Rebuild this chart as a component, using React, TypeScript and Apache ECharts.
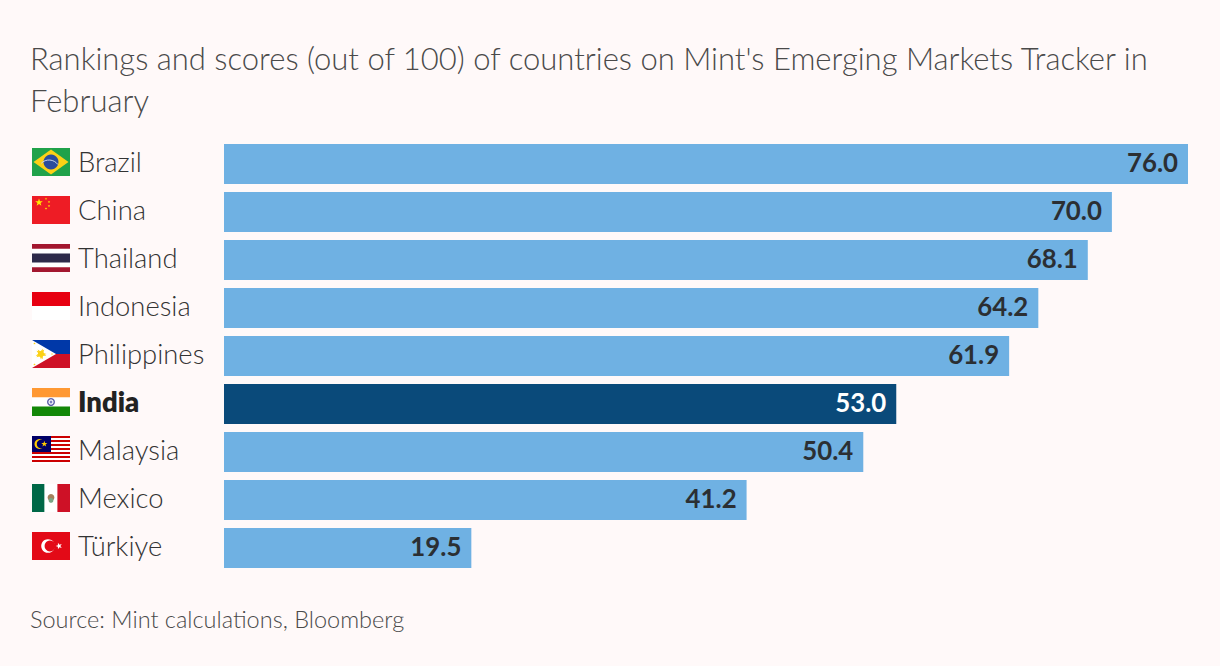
import React, { useEffect, useRef } from "react";
import * as echarts from "echarts";

const titleText = "Rankings and scores (out of 100) of countries on Mint's Emerging Markets Tracker in\nFebruary";
const sourceText = "Source: Mint calculations, Bloomberg";
const countries = ["Brazil", "China", "Thailand", "Indonesia", "Philippines", "India", "Malaysia", "Mexico", "Türkiye"];
const scores = [76.0, 70.0, 68.1, 64.2, 61.9, 53.0, 50.4, 41.2, 19.5];
const highlighted = "India";

const FONT = "Lato, sans-serif";
const W = 38;
const H = 28;

function star(cx: number, cy: number, r: number, rot = -Math.PI / 2) {
  const pts: number[][] = [];
  for (let i = 0; i < 10; i++) {
    const rr = i % 2 ? r * 0.4 : r;
    const a = rot + (i * Math.PI) / 5;
    pts.push([cx + rr * Math.cos(a), cy + rr * Math.sin(a)]);
  }
  return { type: "polygon", shape: { points: pts }, style: { fill: "" } } as any;
}
const rect = (x: number, y: number, w: number, h: number, fill: string) => ({ type: "rect", shape: { x, y, width: w, height: h }, style: { fill } });
const circle = (cx: number, cy: number, r: number, fill: string) => ({ type: "circle", shape: { cx, cy, r }, style: { fill } });
const poly = (points: number[][], fill: string) => ({ type: "polygon", shape: { points }, style: { fill } });
const fillStar = (cx: number, cy: number, r: number, fill: string, rot?: number) => {
  const s = star(cx, cy, r, rot);
  s.style.fill = fill;
  return s;
};

const flags: Record<string, () => any[]> = {
  Brazil: () => [
    rect(0, 0, W, H, "#20a24a"),
    poly([[1.5, H / 2], [W / 2, 1.5], [W - 1.5, H / 2], [W / 2, H - 1.5]], "#fcd116"),
    circle(W / 2, H / 2, 7.5, "#2a4c9c"),
    { type: "arc", shape: { cx: W / 2 - 2, cy: H / 2 + 9, r: 11, startAngle: -Math.PI * 0.75, endAngle: -Math.PI * 0.2 }, style: { stroke: "#c8d4ec", lineWidth: 1, fill: "none" } },
  ],
  China: () => [
    rect(0, 0, W, H, "#ee1c25"),
    fillStar(7, 6.5, 4, "#ffee00"),
    fillStar(14, 2.8, 1.3, "#ffee00"),
    fillStar(17, 6, 1.3, "#ffee00"),
    fillStar(17, 10, 1.3, "#ffee00"),
    fillStar(14, 12.5, 1.3, "#ffee00"),
  ],
  Thailand: () => [
    rect(0, 0, W, H, "#a3172f"),
    rect(0, 4.7, W, 18.6, "#ffffff"),
    rect(0, 9.4, W, 9.2, "#2d2a4a"),
  ],
  Indonesia: () => [rect(0, 0, W, H / 2, "#e70011"), rect(0, H / 2, W, H / 2, "#ffffff")],
  Philippines: () => [
    rect(0, 0, W, H / 2, "#0038a8"),
    rect(0, H / 2, W, H / 2, "#ce1126"),
    poly([[0, 0], [24, H / 2], [0, H]], "#ffffff"),
    fillStar(9, H / 2, 5.6, "#fcd116", 0),
    fillStar(9, H / 2, 5.6, "#fcd116", Math.PI / 10),
    circle(9, H / 2, 3, "#fcd116"),
    fillStar(2.5, 3.5, 1.3, "#fcd116"),
    fillStar(2.5, H - 3.5, 1.3, "#fcd116"),
    fillStar(20, H / 2, 1.1, "#fcd116"),
  ],
  India: () => [
    rect(0, 0, W, 9.4, "#ff9933"),
    rect(0, 9.4, W, 9.2, "#ffffff"),
    rect(0, 18.6, W, 9.4, "#138808"),
    { type: "ring", shape: { cx: W / 2, cy: H / 2, r: 4, r0: 2.6 }, style: { fill: "#5a5fa8" } },
    circle(W / 2, H / 2, 1.4, "#7a7fc0"),
  ],
  Malaysia: () => {
    const out: any[] = [rect(0, 0, W, H, "#ffffff")];
    for (let i = 0; i < 7; i++) out.push(rect(0, i * 4, W, 2, "#cc0001"));
    out.push(rect(0, 0, 19, 16, "#010066"));
    out.push(circle(7.5, 8, 5, "#ffcc00"));
    out.push(circle(9.2, 8, 4.4, "#010066"));
    out.push(fillStar(12.3, 8, 3.2, "#ffcc00"));
    return out;
  },
  Mexico: () => [
    rect(0, 0, 12.6, H, "#006847"),
    rect(12.6, 0, 12.8, H, "#ffffff"),
    rect(25.4, 0, 12.6, H, "#ce1126"),
    circle(W / 2, H / 2 - 0.5, 3.4, "#a5805c"),
    circle(W / 2, H / 2 + 2.4, 2.4, "#7aa585"),
  ],
  "Türkiye": () => [
    rect(0, 0, W, H, "#e30a17"),
    circle(16, H / 2, 6.8, "#ffffff"),
    circle(18, H / 2, 5.4, "#e30a17"),
    fillStar(27, H / 2, 3.4, "#ffffff", Math.PI),
  ],
};

export default function App() {
  const ref = useRef<HTMLDivElement>(null);
  useEffect(() => {
    document.body.style.margin = "0";
    const chart = echarts.init(ref.current!, null, { renderer: "svg" });
    chart.setOption({
      animation: false,
      backgroundColor: "#fff9f9",
      textStyle: { fontFamily: FONT },
      title: [
        {
          text: titleText,
          left: 30,
          top: 37,
          padding: 0,
          textStyle: { fontFamily: FONT, fontSize: 31, fontWeight: 300, color: "#4a4a4a", lineHeight: 42 },
        },
        {
          text: sourceText,
          left: 30,
          top: 604,
          padding: 0,
          textStyle: { fontFamily: FONT, fontSize: 23.5, fontWeight: 300, color: "#4a4a4a", lineHeight: 30 },
        },
      ],
      grid: { left: 224, top: 140, width: 964, height: 432, outerBoundsMode: "none" },
      xAxis: { type: "value", min: 0, max: 76, show: false },
      yAxis: {
        type: "category",
        inverse: true,
        data: countries.map((c) => ({
          value: c,
          textStyle: c === highlighted
            ? { fontWeight: 800, color: "#222222", align: "left", verticalAlign: "bottom", lineHeight: 6 }
            : { align: "left", verticalAlign: "bottom", lineHeight: 6 },
        })),
        axisLine: { show: false },
        axisTick: { show: false },
        axisLabel: { align: "left", verticalAlign: "bottom", lineHeight: 6, margin: 146, fontFamily: FONT, fontSize: 27.4, fontWeight: 300, color: "#333333" },
      },
      series: [
        {
          type: "bar",
          barWidth: 40,
          data: scores.map((v, i) => ({
            value: v,
            itemStyle: { color: countries[i] === highlighted ? "#0a4a7a" : "#6fb1e3" },
            label: { color: countries[i] === highlighted ? "#ffffff" : "#2b2f33" },
          })),
          label: {
            show: true,
            position: "insideRight",
            distance: 10,
            offset: [0, -2],
            fontFamily: FONT,
            fontSize: 25.8,
            fontWeight: 700,
            formatter: (p: any) => Number(p.value).toFixed(1),
          },
        },
        {
          type: "custom",
          clip: false,
          silent: true,
          data: countries.map((_, i) => [0, i]),
          encode: { x: 0, y: 1 },
          renderItem: (params: any, api: any) => {
            const [x, y] = api.coord([0, api.value(1)]);
            return {
              type: "group",
              x: x - 192,
              y: y - H / 2 - 2,
              children: flags[countries[params.dataIndex]](),
            };
          },
        },
      ],
    });
    return () => chart.dispose();
  }, []);
  return <div ref={ref} style={{ position: "fixed", left: 0, top: 0, width: 1220, height: 666 }} />;
}
